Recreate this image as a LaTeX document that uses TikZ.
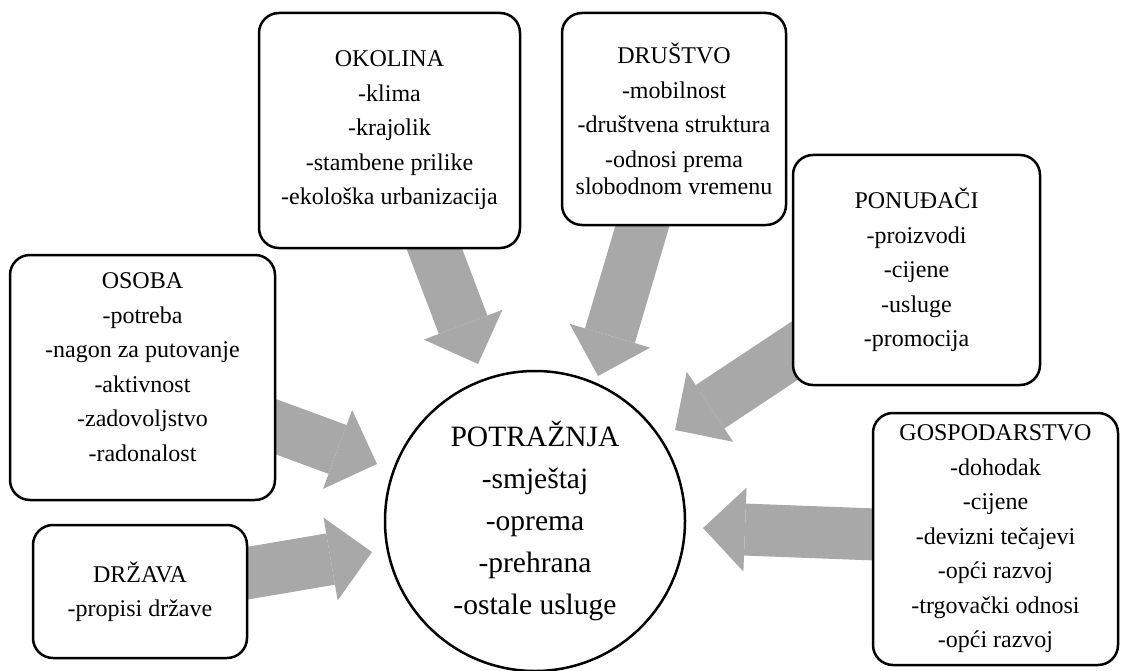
\documentclass[tikz,border=0pt]{standalone}
\usepackage{fontspec}
\setmainfont{Liberation Serif}
\usepackage{tikz}
\usetikzlibrary{arrows.meta,backgrounds}
\definecolor{arrowgray}{RGB}{168,168,168}
\tikzset{
  box/.style={draw, line width=2.5pt, rounded corners=20pt, fill=white, align=center,
    inner sep=0pt, font=\fontsize{24}{27}\selectfont},
  demand/.style={draw, circle, line width=2.5pt, fill=white, align=center,
    inner sep=0pt, minimum size=300pt, font=\fontsize{29.5}{42}\selectfont},
  flow/.style={draw=arrowgray, line width=52pt,
    -{Triangle[width=84pt,length=42pt,line width=0pt]}}
}

\begin{document}
\begin{tikzpicture}[x=1pt, y=-1pt]

  \useasboundingbox (0,0) rectangle (1121,671);

  \node[demand] (potraznja) at (535,521)
    {POTRAŽNJA\\-smještaj\\-oprema\\-prehrana\\-ostale usluge};

  \node[box, minimum width=261pt, minimum height=235pt] (okolina) at (389.5,130.5)
    {OKOLINA\\[7.5pt]-klima\\[7.5pt]-krajolik\\[7.5pt]-stambene prilike\\[7.5pt]-ekološka urbanizacija};
  \node[box, minimum width=224pt, minimum height=212pt] (drustvo) at (674,119)
    {DRUŠTVO\\[7.5pt]-mobilnost\\[7.5pt]-društvena struktura\\[7.5pt]-odnosi prema\\slobodnom vremenu};
  \node[box, minimum width=247pt, minimum height=230pt] (ponudaci) at (916.5,270)
    {PONUĐAČI\\[7.5pt]-proizvodi\\[7.5pt]-cijene\\[7.5pt]-usluge\\[7.5pt]-promocija};
  \node[box, minimum width=265pt, minimum height=245pt] (osoba) at (142.5,377.5)
    {OSOBA\\[7.5pt]-potreba\\[7.5pt]-nagon za putovanje\\[7.5pt]-aktivnost\\[7.5pt]-zadovoljstvo\\[7.5pt]-radonalost\\[-6pt]};
  \node[box, minimum width=214pt, minimum height=133pt] (drzava) at (140,591.5)
    {DRŽAVA\\[7.5pt]-propisi države};
  \node[box, minimum width=245pt, minimum height=252pt] (gospodarstvo) at (995.5,539)
    {GOSPODARSTVO\\[7.5pt]-dohodak\\[7.5pt]-cijene\\[7.5pt]-devizni tečajevi\\[7.5pt]-opći razvoj\\[7.5pt]-trgovački odnosi\\[7.5pt]-opći razvoj};

  % arrow tips near the circle
  \coordinate (okolinaTip) at (478,364);
  \coordinate (drustvoTip) at (598,376);
  \coordinate (ponudaciTip) at (675,430);
  \coordinate (osobaTip) at (377,464);
  \coordinate (drzavaTip) at (372,552);
  \coordinate (gospodarstvoTip) at (703,528);

  \begin{pgfonlayer}{background}
    \draw[flow] (okolina.center) -- (okolinaTip);
    \draw[flow] (drustvo.center) -- (drustvoTip);
    \draw[flow] (ponudaci.center) -- (ponudaciTip);
    \draw[flow] (osoba.center) -- (osobaTip);
    \draw[flow] (drzava.center) -- (drzavaTip);
    \draw[flow] (gospodarstvo.center) -- (gospodarstvoTip);
  \end{pgfonlayer}

\end{tikzpicture}
\end{document}
